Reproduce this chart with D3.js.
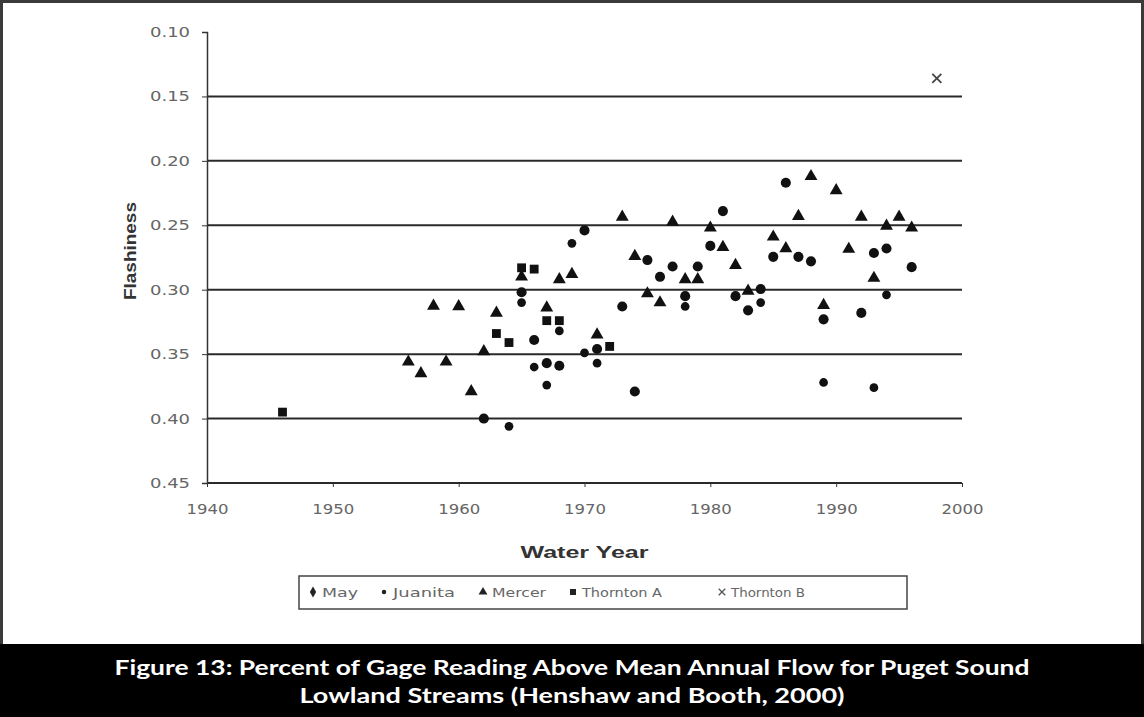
<!DOCTYPE html>
<html><head><meta charset="utf-8">
<script src="https://cdn.jsdelivr.net/npm/d3@7"></script>
<style>html,body{margin:0;padding:0;background:#fff;}svg{display:block;}</style>
</head><body>
<script>
// ---- data ----
const yTicks = [0.10, 0.15, 0.20, 0.25, 0.30, 0.35, 0.40, 0.45];
const xTicks = [1940, 1950, 1960, 1970, 1980, 1990, 2000];
const seriesNames = ["May", "Juanita", "Mercer", "Thornton A", "Thornton B"];
const mayYears = [1962,1965,1966,1967,1968,1970,1971,1973,1974,1975,1976,1977,1978,1979,1980,1981,1982,1983,1984,1985,1986,1987,1988,1989,1992,1993,1994,1996];
const mayValues = [0.400,0.302,0.339,0.357,0.359,0.254,0.346,0.313,0.379,0.277,0.290,0.282,0.305,0.282,0.266,0.239,0.305,0.316,0.2995,0.2745,0.217,0.2745,0.278,0.323,0.318,0.2715,0.268,0.2825];
const juanitaYears = [1964,1965,1966,1967,1968,1969,1970,1971,1978,1984,1989,1993,1994];
const juanitaValues = [0.406,0.310,0.360,0.374,0.332,0.264,0.349,0.357,0.313,0.310,0.372,0.376,0.304];
const mercerYears = [1956,1957,1958,1959,1960,1961,1962,1963,1965,1967,1968,1969,1971,1973,1974,1975,1976,1977,1978,1979,1980,1981,1982,1983,1985,1986,1987,1988,1989,1990,1991,1992,1993,1994,1995,1996];
const mercerValues = [0.356,0.365,0.3126,0.356,0.313,0.379,0.348,0.318,0.290,0.314,0.292,0.288,0.335,0.2436,0.274,0.303,0.310,0.2475,0.292,0.292,0.252,0.267,0.281,0.301,0.259,0.268,0.243,0.212,0.312,0.223,0.2685,0.2435,0.291,0.2505,0.2435,0.252];
const thorntonAYears = [1946,1963,1964,1965,1966,1967,1968,1972];
const thorntonAValues = [0.395,0.334,0.341,0.283,0.284,0.324,0.324,0.344];
const thorntonBYears = [1998];
const thorntonBValues = [0.136];
const captionLines = ["Figure 13: Percent of Gage Reading Above Mean Annual Flow for Puget Sound", "Lowland Streams (Henshaw and Booth, 2000)"];

const W = 1144, H = 717;
const svg = d3.select("body").append("svg").attr("width", W).attr("height", H);
const tickFont = "'DejaVu Sans',sans-serif";
const titleFont = "'Liberation Sans',Arial,sans-serif";

// frame
svg.append("rect").attr("x",1.5).attr("y",1.5).attr("width",W-3).attr("height",645)
  .attr("fill","#fff").attr("stroke","#3a3a3a").attr("stroke-width",3);
// caption band
svg.append("rect").attr("x",0).attr("y",644).attr("width",W).attr("height",H-644).attr("fill","#000");
const capW = [915, 545];
captionLines.forEach((t,i)=>{
  svg.append("text").attr("x",W/2).attr("y",675+i*28).attr("text-anchor","middle")
    .attr("fill","#fff").attr("font-family","Lato,'Open Sans',sans-serif")
    .attr("font-weight","bold").attr("font-size",21)
    .attr("textLength",capW[i]).attr("lengthAdjust","spacingAndGlyphs").text(t);
});

const x = d3.scaleLinear().domain([1940,2000]).range([207,962]);
const y = d3.scaleLinear().domain([0.10,0.45]).range([32,483]);

// gridlines
svg.append("g").selectAll("line").data(yTicks.filter(v=>v>0.11)).join("line")
  .attr("x1",x(1940)).attr("x2",x(2000)).attr("y1",d=>y(d)).attr("y2",d=>y(d))
  .attr("stroke","#2a2a2a").attr("stroke-width",2);

// y axis
const yAxis = d3.axisLeft(y).tickValues(yTicks).tickFormat(d3.format(".2f")).tickSize(5).tickPadding(12);
const gy = svg.append("g").attr("transform",`translate(${x(1940)},0)`).call(yAxis);
gy.select(".domain").attr("stroke","#333").attr("stroke-width",1.5);
gy.selectAll(".tick line").attr("stroke","#333");
gy.selectAll("text").attr("font-family",tickFont).attr("font-size",14).attr("fill","#666")
  .attr("textLength",40).attr("lengthAdjust","spacingAndGlyphs");

// x axis
const xAxis = d3.axisBottom(x).tickValues(xTicks).tickFormat(d3.format("d")).tickSize(4).tickPadding(17);
const gx = svg.append("g").attr("transform",`translate(0,${y(0.45)})`).call(xAxis);
gx.select(".domain").remove();
gx.selectAll(".tick line").attr("stroke","#333");
gx.selectAll("text").attr("font-family",tickFont).attr("font-size",14).attr("fill","#666")
  .attr("textLength",42).attr("lengthAdjust","spacingAndGlyphs");

// axis titles
svg.append("text").attr("x",(x(1940)+x(2000))/2).attr("y",558).attr("text-anchor","middle")
  .attr("font-family",titleFont).attr("font-weight","bold").attr("font-size",17).attr("fill","#333")
  .attr("textLength",128).attr("lengthAdjust","spacingAndGlyphs").text("Water Year");
svg.append("text").attr("transform",`translate(136,${y(0.27)}) rotate(-90)`).attr("text-anchor","middle")
  .attr("font-family",titleFont).attr("font-weight","bold").attr("font-size",16).attr("fill","#333")
  .attr("textLength",98).attr("lengthAdjust","spacingAndGlyphs").text("Flashiness");

// symbols
const symDiamond = d3.symbol().type(d3.symbolCircle).size(80);
const symDot = d3.symbol().type(d3.symbolCircle).size(60);
const symTri = d3.symbol().type(d3.symbolTriangle).size(72);
const symSq = d3.symbol().type(d3.symbolSquare).size(78);
const symX = d3.symbol().type(d3.symbolTimes).size(55);
const series = [
  {name:seriesNames[0], xs:mayYears, ys:mayValues, sym:symDiamond},
  {name:seriesNames[1], xs:juanitaYears, ys:juanitaValues, sym:symDot},
  {name:seriesNames[2], xs:mercerYears, ys:mercerValues, sym:symTri},
  {name:seriesNames[3], xs:thorntonAYears, ys:thorntonAValues, sym:symSq},
  {name:seriesNames[4], xs:thorntonBYears, ys:thorntonBValues, sym:symX, stroke:true}
];
series.forEach(s=>{
  const pts = s.xs.map((v,i)=>[v,s.ys[i]]);
  svg.append("g").selectAll("path").data(pts).join("path")
    .attr("transform",d=>`translate(${x(d[0])},${y(d[1])})`)
    .attr("d",s.sym())
    .attr("fill",s.stroke?"none":"#111")
    .attr("stroke",s.stroke?"#444":"none").attr("stroke-width",1.8);
});

// legend
const lg = svg.append("g");
lg.append("rect").attr("x",299).attr("y",576).attr("width",608).attr("height",33)
  .attr("fill","#fff").attr("stroke","#444").attr("stroke-width",1.5);
const legX = [313, 384, 483, 573, 722];
const legW = [36, 62, 54, 80, 74];
const legSyms = [
  d3.symbol().type(d3.symbolDiamond).size(34),
  d3.symbol().type(d3.symbolCircle).size(16),
  d3.symbol().type(d3.symbolTriangle).size(34),
  d3.symbol().type(d3.symbolSquare).size(36),
  d3.symbol().type(d3.symbolTimes).size(30)
];
seriesNames.forEach((n,i)=>{
  lg.append("path").attr("transform",`translate(${legX[i]},592)`).attr("d",legSyms[i]())
    .attr("fill", i===4?"none":"#222").attr("stroke", i===4?"#555":"none").attr("stroke-width",1.3);
  lg.append("text").attr("x",legX[i]+9).attr("y",597)
    .attr("font-family",tickFont).attr("font-size",13).attr("fill","#666")
    .attr("textLength",legW[i]).attr("lengthAdjust","spacingAndGlyphs").text(n);
});
</script>
</body></html>
